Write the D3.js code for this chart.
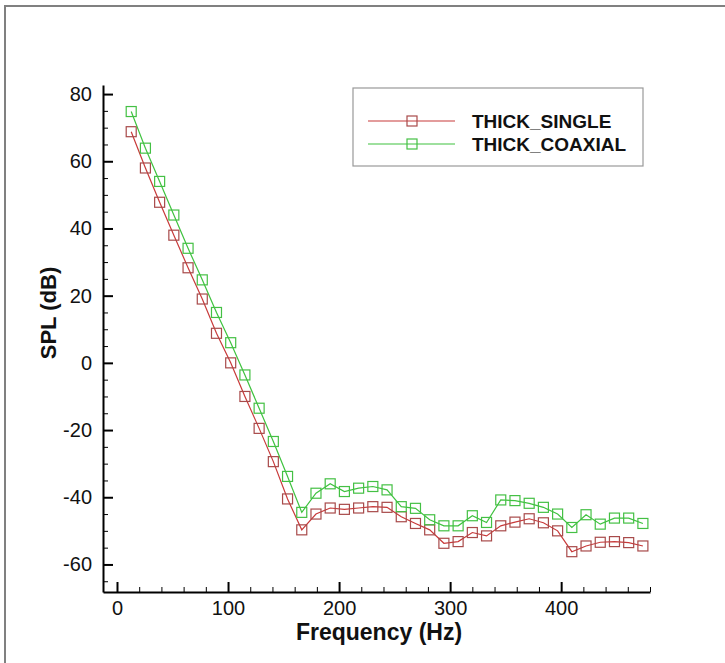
<!DOCTYPE html>
<html>
<head>
<meta charset="utf-8">
<script src="https://cdn.jsdelivr.net/npm/d3@7"></script>
<style>
  body { margin: 0; background: #fff; }
  svg { display: block; font-family: "Liberation Sans", Arial, sans-serif; }
</style>
</head>
<body>
<div class="container"></div>
<script>
// frequencies (Hz) of the spectrum bins
let freqs = [12.8, 25.6, 38.4, 51.2, 64, 76.8, 89.6, 102.4, 115.2, 128, 140.8, 153.6,
  166.4, 179.2, 192, 204.8, 217.6, 230.4, 243.2, 256, 268.8, 281.6, 294.4, 307.2,
  320, 332.8, 345.6, 358.4, 371.2, 384, 396.8, 409.6, 422.4, 435.2, 448, 460.8, 473.6];

let thickSingle = [68.8, 58, 47.8, 38, 28.3, 19, 8.8, 0, -10, -19.5, -29.4, -40.5,
  -49.7, -45, -43.2, -43.6, -43.2, -42.8, -43, -45.8, -47.8, -49.7, -53.7, -53.2,
  -50.5, -51.5, -48.5, -47.4, -46.4, -47.6, -50, -56.2, -54.5, -53.4, -53.2, -53.5, -54.5];

let thickCoaxial = [74.8, 63.9, 54, 44, 34.1, 24.7, 15, 6, -3.6, -13.5, -23.4, -33.8,
  -44.5, -38.8, -36, -38.3, -37.3, -36.8, -37.8, -42.8, -43.3, -46.7, -48.5, -48.5,
  -45.5, -47.5, -40.8, -41, -41.8, -43, -45, -49, -45.2, -48, -46.2, -46.2, -47.8];

let xTicks = [0, 100, 200, 300, 400];
let yTicks = [-60, -40, -20, 0, 20, 40, 60, 80];
let xMinor = [20, 40, 60, 80, 120, 140, 160, 180, 220, 240, 260, 280, 320, 340, 360, 380, 420, 440, 460, 480];
let yMinor = [-65, -55, -50, -45, -35, -30, -25, -15, -10, -5, 5, 10, 15, 25, 30, 35, 45, 50, 55, 65, 70, 75];

let seriesNames = ["THICK_SINGLE", "THICK_COAXIAL"];
let seriesData = [thickSingle, thickCoaxial];
let lineColors = ["#c83a3a", "#3fc23f"];
let markColors = ["#a84a4a", "#44c044"];

let width = 725, height = 663;

let svg = d3.select(".container")
  .append("svg")
  .attr("width", width)
  .attr("height", height);

// outer frame (top and left edges visible)
svg.append("path")
  .attr("d", "M5,663 V6 H725")
  .attr("fill", "none")
  .attr("stroke", "#808080")
  .attr("stroke-width", 2);

let x = d3.scaleLinear().domain([-12.6, 480]).range([103, 650]);
let y = d3.scaleLinear().domain([-68.2, 82.7]).range([592, 85]);

// plain hyphen for negatives, like the original
let fmt = d => String(d);

// minor ticks
svg.append("g")
  .attr("transform", "translate(0,592)")
  .call(d3.axisBottom(x).tickValues(xMinor).tickSize(-5).tickSizeOuter(0).tickFormat(""))
  .call(g => g.select(".domain").remove())
  .selectAll("line").attr("stroke", "#000").attr("stroke-width", 1);

svg.append("g")
  .attr("transform", "translate(103,0)")
  .call(d3.axisLeft(y).tickValues(yMinor).tickSize(-5).tickSizeOuter(0).tickFormat(""))
  .call(g => g.select(".domain").remove())
  .selectAll("line").attr("stroke", "#000").attr("stroke-width", 1);

// major axes
let xAxis = svg.append("g")
  .attr("transform", "translate(0,592)")
  .call(d3.axisBottom(x).tickValues(xTicks).tickFormat(fmt).tickSize(-10).tickSizeOuter(0).tickPadding(9));

let yAxis = svg.append("g")
  .attr("transform", "translate(103,0)")
  .call(d3.axisLeft(y).tickValues(yTicks).tickFormat(fmt).tickSize(-10).tickSizeOuter(0).tickPadding(11));

[xAxis, yAxis].forEach(g => {
  g.select(".domain").attr("stroke", "#000").attr("stroke-width", 2);
  g.selectAll(".tick line").attr("stroke", "#000").attr("stroke-width", 2);
  g.selectAll(".tick text")
    .attr("fill", "#111")
    .style("font-size", "20px")
    .style("font-family", "'Liberation Sans', Arial, sans-serif");
});

// axis titles
svg.append("text")
  .attr("x", 379)
  .attr("y", 640)
  .attr("text-anchor", "middle")
  .style("font-size", "23px")
  .style("font-weight", "bold")
  .attr("fill", "#111")
  .text("Frequency (Hz)");

svg.append("text")
  .attr("transform", "translate(56,313) rotate(-90)")
  .attr("text-anchor", "middle")
  .style("font-size", "22px")
  .style("font-weight", "bold")
  .attr("fill", "#111")
  .text("SPL (dB)");

let line = d3.line()
  .x((d, i) => x(freqs[i]))
  .y(d => y(d));

seriesData.forEach((vals, s) => {
  svg.append("path")
    .datum(vals)
    .attr("fill", "none")
    .attr("stroke", lineColors[s])
    .attr("stroke-width", 1.2)
    .attr("d", line);

  svg.selectAll(`.mark${s}`)
    .data(vals)
    .enter().append("rect")
    .attr("class", `mark${s}`)
    .attr("x", (d, i) => x(freqs[i]) - 5)
    .attr("y", d => y(d) - 5)
    .attr("width", 10)
    .attr("height", 10)
    .attr("fill", "none")
    .attr("stroke", markColors[s])
    .attr("stroke-width", 1.2);
});

// legend
let legend = svg.append("g")
  .attr("id", "legend")
  .attr("transform", "translate(353,88)");

legend.append("rect")
  .attr("width", 290)
  .attr("height", 78)
  .attr("fill", "#fff")
  .attr("stroke", "#999")
  .attr("stroke-width", 1.2);

seriesNames.forEach((name, i) => {
  let row = legend.append("g")
    .attr("transform", `translate(0,${33 + i * 23})`);

  row.append("line")
    .attr("x1", 15)
    .attr("x2", 102)
    .attr("stroke", lineColors[i])
    .attr("stroke-width", 1.2);

  row.append("rect")
    .attr("x", 54)
    .attr("y", -5)
    .attr("width", 10)
    .attr("height", 10)
    .attr("fill", "none")
    .attr("stroke", markColors[i])
    .attr("stroke-width", 1.2);

  row.append("text")
    .attr("x", 119)
    .attr("y", 6.5)
    .style("font-size", "19px")
    .style("font-weight", "bold")
    .attr("fill", "#111")
    .text(name);
});
</script>
</body>
</html>
